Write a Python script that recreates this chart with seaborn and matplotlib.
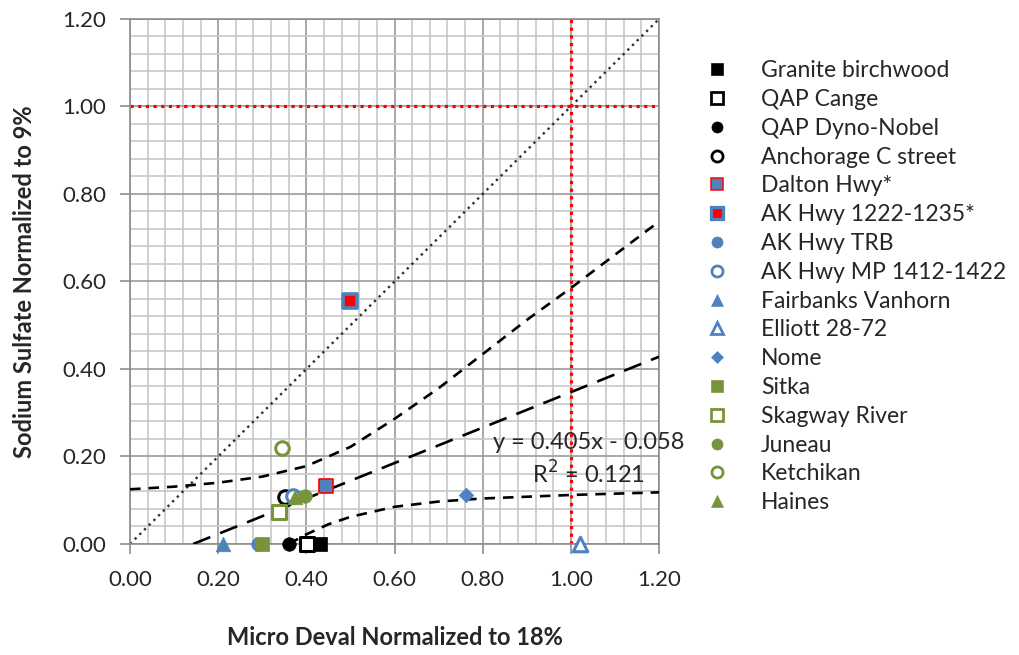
import numpy as np
import pandas as pd
import seaborn as sns
import matplotlib.pyplot as plt
from matplotlib.ticker import MultipleLocator, FormatStrFormatter

# ---- data ----
names = ['Granite birchwood', 'QAP Cange', 'QAP Dyno-Nobel', 'Anchorage C street',
         'Dalton Hwy*', 'AK Hwy 1222-1235*', 'AK Hwy TRB', 'AK Hwy MP 1412-1422',
         'Fairbanks Vanhorn', 'Elliott 28-72', 'Nome', 'Sitka', 'Skagway River',
         'Juneau', 'Ketchikan', 'Haines']
micro_deval = [0.431, 0.401, 0.360, 0.352, 0.444, 0.499, 0.290, 0.370,
               0.210, 1.020, 0.762, 0.300, 0.338, 0.397, 0.345, 0.374]
sodium_sulfate = [0.000, 0.000, 0.000, 0.108, 0.133, 0.555, 0.000, 0.110,
                  0.000, 0.000, 0.112, 0.000, 0.073, 0.110, 0.220, 0.107]

# trendline y = 0.405x - 0.058
slope, intercept, r2 = 0.405, -0.058, 0.121

# dashed band curves
upper_x = [0.00, 0.10, 0.20, 0.30, 0.40, 0.50, 0.60, 0.70, 0.80, 0.90, 1.00, 1.10, 1.20]
upper_y = [0.125, 0.131, 0.140, 0.154, 0.178, 0.222, 0.286, 0.356, 0.434, 0.512, 0.585, 0.661, 0.737]
lower_x = [0.36, 0.40, 0.45, 0.50, 0.60, 0.70, 0.80, 0.90, 1.00, 1.10, 1.20]
lower_y = [0.000, 0.022, 0.045, 0.062, 0.085, 0.097, 0.104, 0.108, 0.112, 0.115, 0.118]

BLUE = '#4F81BD'
GREEN = '#77933C'
RED = '#FF0000'
# marker, face, edge
styles = [
    ('s', 'black', 'black'),
    ('s', 'white', 'black'),
    ('o', 'black', 'black'),
    ('o', 'white', 'black'),
    ('s', BLUE, RED),
    ('s', RED, BLUE),
    ('o', BLUE, BLUE),
    ('o', 'white', BLUE),
    ('^', BLUE, BLUE),
    ('^', 'white', BLUE),
    ('D', BLUE, BLUE),
    ('s', GREEN, GREEN),
    ('s', 'white', GREEN),
    ('o', GREEN, GREEN),
    ('o', 'white', GREEN),
    ('^', GREEN, GREEN),
]

df = pd.DataFrame({'site': names, 'md': micro_deval, 'ss': sodium_sulfate})

sns.set_style('white')
plt.rcParams['font.family'] = ['Lato', 'DejaVu Sans']

fig = plt.figure(figsize=(10.2, 6.55), dpi=100)
ax = fig.add_axes([0.1275, 0.1695, 0.5186, 0.8015])

# reference lines
ref = np.array([0.0, 1.2])
sns.lineplot(x=ref, y=ref, ax=ax, color='#303030', lw=1.7, linestyle=(0, (1, 1.8)), zorder=2)
ax.axhline(1.0, color=RED, lw=2.3, linestyle=(0, (1, 1.4)), zorder=2)
ax.axvline(1.0, color=RED, lw=2.3, linestyle=(0, (1, 1.4)), zorder=2)

# trendline and band
tx = np.array([-intercept / slope, 1.2])
sns.lineplot(x=tx, y=slope * tx + intercept, ax=ax, color='black', lw=1.9,
             linestyle=(0, (7, 4)), zorder=3)
sns.lineplot(x=upper_x, y=upper_y, ax=ax, color='black', lw=1.9, sort=False,
             estimator=None, linestyle=(0, (4, 3)), zorder=3)
sns.lineplot(x=lower_x, y=lower_y, ax=ax, color='black', lw=1.9, sort=False,
             estimator=None, linestyle=(0, (4, 3)), zorder=3)

handles = []
for (m, fc, ec), row in zip(styles, df.itertuples()):
    size = 95 if m != 'D' else 55
    if m == '^':
        size = 110
    if fc == 'white':
        lw = 2.2
    elif m == 's' and fc == RED:
        lw = 2.6
    elif m == 's' and fc != ec:
        lw = 1.2
    else:
        lw = 0.5
    sns.scatterplot(x=[row.md], y=[row.ss], ax=ax, marker=m, color=fc,
                    edgecolor=ec, linewidth=lw, s=size, zorder=5, clip_on=False)
    h = plt.Line2D([], [], marker=m, linestyle='', markerfacecolor=fc,
                   markeredgecolor=ec, markeredgewidth=lw * 0.9,
                   markersize=8 if m != 'D' else 6.5)
    handles.append(h)

ax.text(1.04, 0.233, 'y = 0.405x - 0.058', ha='center', va='center', fontsize=17, zorder=6)
ax.text(1.04, 0.160, 'R$^2$ = 0.121', ha='center', va='center', fontsize=17, zorder=6)

ax.set_xlim(0, 1.2)
ax.set_ylim(0, 1.2)
for axis in (ax.xaxis, ax.yaxis):
    axis.set_major_locator(MultipleLocator(0.2))
    axis.set_minor_locator(MultipleLocator(0.04))
    axis.set_major_formatter(FormatStrFormatter('%.2f'))
ax.grid(which='minor', color='#C8C8C8', lw=1.2, zorder=0)
ax.grid(which='major', color='#9A9A9A', lw=1.2, zorder=1)
ax.set_axisbelow(True)
ax.tick_params(which='major', direction='out', length=7, width=1.2, color='#8C8C8C',
               labelsize=16, pad=10, bottom=True, left=True)
ax.tick_params(axis='x', which='major', pad=12)
ax.tick_params(which='minor', length=0)
for s in ax.spines.values():
    s.set_color('#8C8C8C')
    s.set_linewidth(1.2)

ax.set_xlabel('Micro Deval Normalized to 18%', fontsize=17, fontweight='bold', labelpad=26)
ax.set_ylabel('Sodium Sulfate Normalized to 9%', fontsize=17, fontweight='bold', labelpad=19)

fig.legend(handles, names, loc='upper left', bbox_to_anchor=(0.671, 0.922),
           frameon=False, fontsize=16.5, labelspacing=0.34, handletextpad=0.95,
           borderaxespad=0)

fig.savefig('out.png', dpi=100)
